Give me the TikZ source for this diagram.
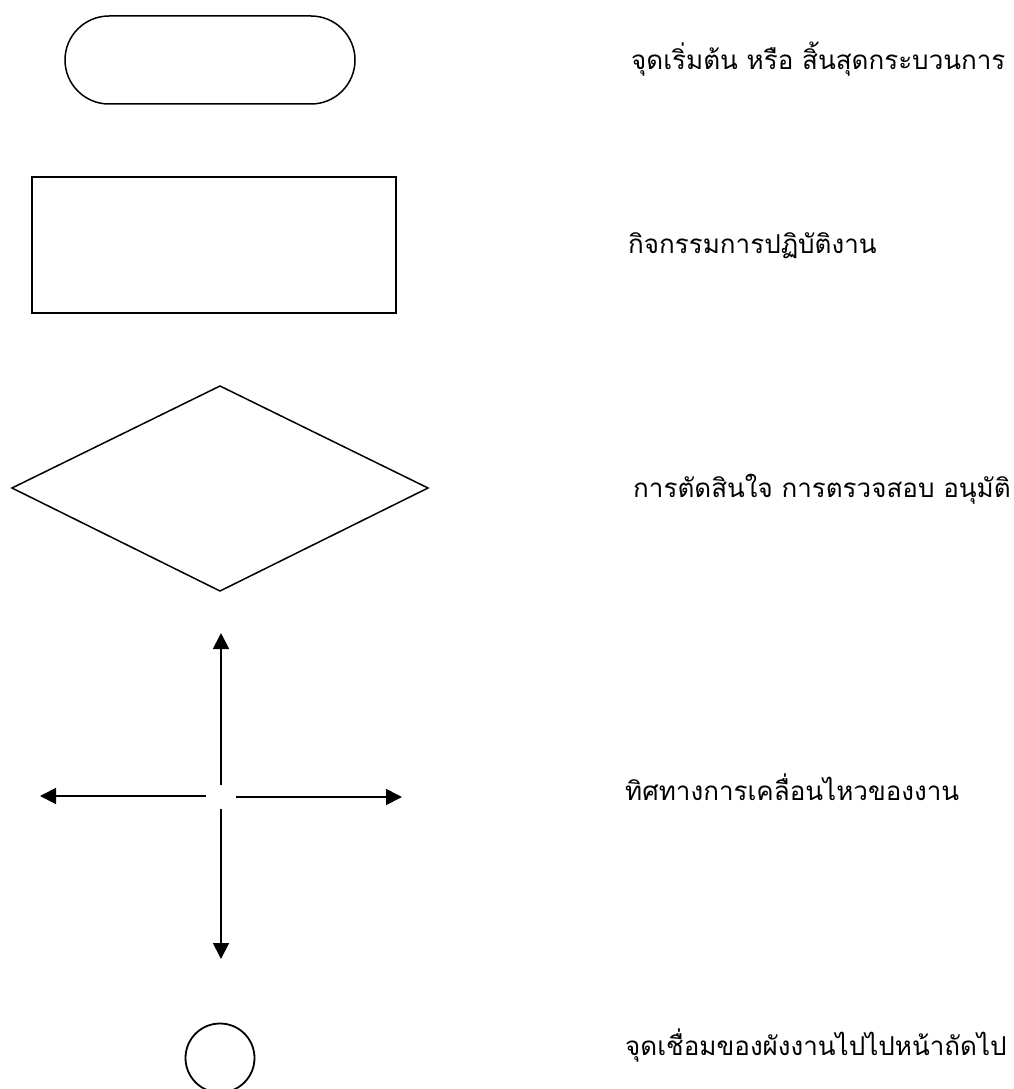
\documentclass[tikz,border=0pt]{standalone}
\usepackage{fontspec}
\newfontfamily\thaifont[Script=Thai]{Loma}
\usetikzlibrary{arrows.meta}
\begin{document}
\begin{tikzpicture}[x=1pt,y=-1pt,
  shape line/.style={draw=black,line width=1.5pt},
  flow arrow/.style={draw=black,line width=1.8pt,-{Triangle[length=16pt,width=16pt]}},
  legend text/.style={anchor=base west,inner sep=0pt,font=\thaifont\fontsize{26}{30}\selectfont}]
  \useasboundingbox (0,0) rectangle (1013,1089);
  % terminal (start / end)
  \draw[shape line,rounded corners=44pt] (65,16) rectangle (355,104);
  \node[legend text] (t1) at (631,70) {จุดเริ่มต้น หรือ สิ้นสุดกระบวนการ};
  % process box
  \draw[shape line] (32,177) rectangle (396,313);
  \node[legend text] (t2) at (628,253) {กิจกรรมการปฏิบัติงาน};
  % decision diamond
  \draw[shape line] (220,386) -- (428,488) -- (220,591) -- (12,488) -- cycle;
  \node[legend text] (t3) at (633,497) {การตัดสินใจ การตรวจสอบ อนุมัติ};
  % flow direction arrows
  \coordinate (upS) at (221,785);   \coordinate (upE) at (221,633);
  \coordinate (dnS) at (221,809);   \coordinate (dnE) at (221,959);
  \coordinate (ltS) at (206,796);   \coordinate (ltE) at (40,796);
  \coordinate (rtS) at (236,797);   \coordinate (rtE) at (402,797);
  \draw[flow arrow] (upS) -- (upE);
  \draw[flow arrow] (dnS) -- (dnE);
  \draw[flow arrow] (ltS) -- (ltE);
  \draw[flow arrow] (rtS) -- (rtE);
  \node[legend text] (t4) at (625,800) {ทิศทางการเคลื่อนไหวของงาน};
  % connector circle
  \node[draw=black,line width=1.8pt,circle,minimum size=69pt,inner sep=0pt] (con) at (220,1058) {};
  \node[legend text] (t5) at (625,1055) {จุดเชื่อมของผังงานไปไปหน้าถัดไป};
\end{tikzpicture}
\end{document}
